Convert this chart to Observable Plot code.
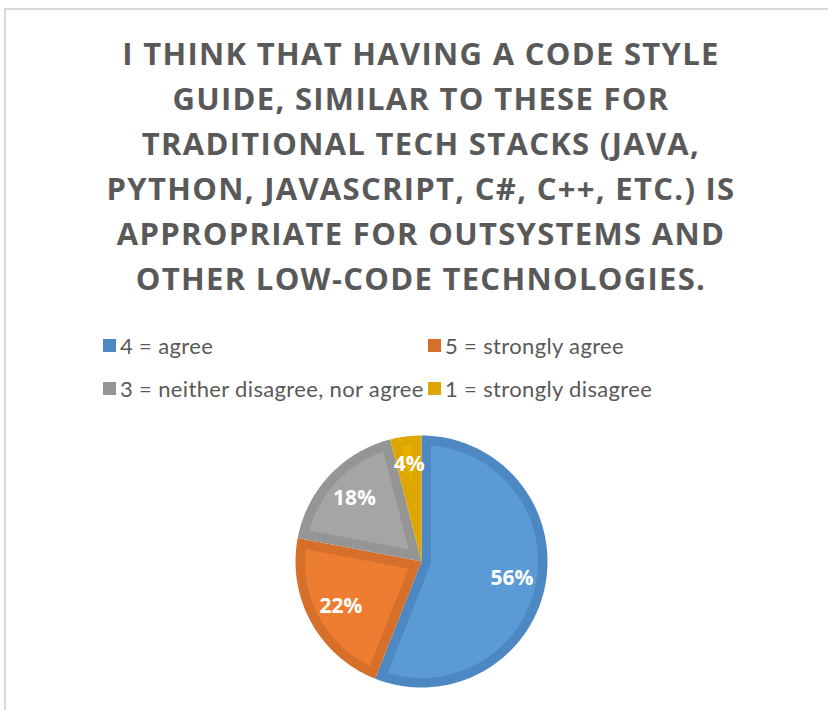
<!DOCTYPE html>
<html>
<head>
<meta charset="utf-8">
<script src="https://cdn.jsdelivr.net/npm/d3@7"></script>
<script src="https://cdn.jsdelivr.net/npm/@observablehq/plot@0.6"></script>
<style>
  html, body { margin: 0; padding: 0; background: #fff; overflow: hidden; width: 828px; height: 710px; }
  #frame { position: absolute; left: 4px; top: 8px; width: 840px; height: 720px; border: 2px solid #d9d9d9; box-sizing: border-box; }
  #title { position: absolute; left: 0; width: 842px; top: 31px; text-align: center; font-family: "Open Sans", sans-serif; font-weight: 700; font-size: 31px; line-height: 45px; color: #595959; letter-spacing: 1.3px; }
  #title div { width: 842px; }
  .leg { position: absolute; font-family: Lato, "Open Sans", sans-serif; font-size: 22px; letter-spacing: 0.35px; color: #595959; white-space: nowrap; display: flex; align-items: center; }
  .sw { width: 13px; height: 13px; margin-right: 4px; display: inline-block; }
  #chart { position: absolute; left: 0; top: 380px; }
</style>
</head>
<body>
<div id="frame"></div>
<div id="title"></div>
<div id="legend"></div>
<div id="chart"></div>
<script>
const titleLines = [
  "I THINK THAT HAVING A CODE STYLE",
  "GUIDE, SIMILAR TO THESE FOR",
  "TRADITIONAL TECH STACKS (JAVA,",
  "PYTHON, JAVASCRIPT, C#, C++, ETC.) IS",
  "APPROPRIATE FOR OUTSYSTEMS AND",
  "OTHER LOW-CODE TECHNOLOGIES."
];
const categories = ["4 = agree", "5 = strongly agree", "3 = neither disagree, nor agree", "1 = strongly disagree"];
const values = [56, 22, 18, 4];
const fillColors = ["#5B9BD5", "#ED7D31", "#A5A5A5", "#E8AE00"];
const borderColors = ["#4D88C2", "#D66F2A", "#959595", "#DEA600"];

// Title
const t = document.getElementById("title");
titleLines.forEach(l => { const d = document.createElement("div"); d.textContent = l; t.appendChild(d); });

// Legend (2 columns x 2 rows)
const legPos = [[103, 345], [428, 345], [103, 388], [428, 388]];
const lg = document.getElementById("legend");
categories.forEach((c, i) => {
  const e = document.createElement("div");
  e.className = "leg";
  e.style.left = legPos[i][0] + "px";
  e.style.top = (legPos[i][1] - 12) + "px";
  e.style.height = "24px";
  e.innerHTML = `<span class="sw" style="background:${borderColors[i]}"></span>`;
  e.appendChild(document.createTextNode(c));
  lg.appendChild(e);
});

// Pie geometry from values
const pie = d3.pie().sort(null).value(d => d.value)(categories.map((c, i) => ({cat: c, value: values[i], i})));
const u = 9.5 / 126; // border thickness as share of radius
const pt = (a, r) => [r * Math.sin(a), r * Math.cos(a)];
const arcPts = (a0, a1, r) => {
  const n = Math.max(2, Math.ceil(Math.abs(a1 - a0) / 0.02));
  return d3.range(n + 1).map(k => pt(a0 + (a1 - a0) * k / n, r));
};
const outer = [], inner = [], labels = [];
pie.forEach(s => {
  const a0 = s.startAngle, a1 = s.endAngle, i = s.data.i, th = a1 - a0;
  [[0, 0], ...arcPts(a0, a1, 1)].forEach(([x, y]) => outer.push({x, y, i, color: borderColors[i]}));
  const rho = 1 - u, del = Math.asin(u / rho);
  let poly;
  if (th < Math.PI) {
    poly = [pt((a0 + a1) / 2, u / Math.sin(th / 2)), ...arcPts(a0 + del, a1 - del, rho)];
  } else {
    poly = [...arcPts(a0 + del, a1 - del, rho), ...arcPts(a1 - Math.PI / 2, a0 + Math.PI / 2, u)];
  }
  poly.forEach(([x, y]) => inner.push({x, y, i, color: fillColors[i]}));
  const m = (a0 + a1) / 2, lr = s.data.value < 5 ? 0.78 : 0.73;
  const [lx, ly] = pt(m, lr);
  labels.push({x: lx, y: ly, text: s.data.value + "%"});
});

const cx = 421, cy = 181, R = 126;
const chart = Plot.plot({
  width: 828,
  height: 330,
  margin: 0,
  x: {domain: [-1, 1], range: [cx - R, cx + R], axis: null},
  y: {domain: [-1, 1], range: [cy + R, cy - R], axis: null},
  color: {type: "identity"},
  style: {background: "transparent"},
  marks: [
    Plot.line(outer, {x: "x", y: "y", z: "i", fill: "color", stroke: "none", curve: "linear-closed"}),
    Plot.line(inner, {x: "x", y: "y", z: "i", fill: "color", stroke: "none", curve: "linear-closed"}),
    Plot.text(labels, {x: "x", y: "y", text: "text", fill: "white", fontSize: 21, fontWeight: "bold", fontFamily: "Open Sans, sans-serif"})
  ]
});
document.getElementById("chart").appendChild(chart);
</script>
</body>
</html>
